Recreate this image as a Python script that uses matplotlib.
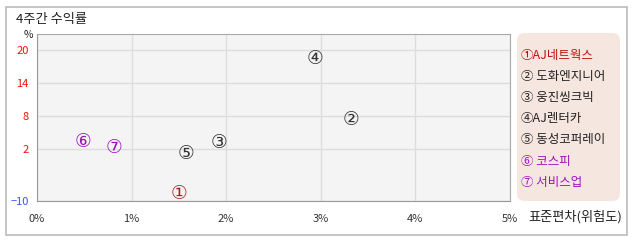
import numpy as np
import matplotlib.pyplot as plt
from matplotlib.patches import FancyBboxPatch, Rectangle

plt.rcParams['font.family'] = ['Noto Sans CJK KR', 'DejaVu Sans']

# data
marks = ['①', '②', '③', '④', '⑤', '⑥', '⑦']
names = ['AJ네트웍스', ' 도화엔지니어', ' 웅진씽크빅', 'AJ렌터카', ' 동성코퍼레이', ' 코스피', ' 서비스업']
risk = [1.50, 3.32, 1.92, 2.94, 1.57, 0.49, 0.81]      # 표준편차 (%)
ret = [-8.2, 7.3, 3.1, 18.5, 0.9, 3.3, 2.2]            # 4주간 수익률 (%)
colors = ['#b02020', '#333333', '#333333', '#333333', '#333333', '#a010c0', '#a010c0']
legend_colors = ['#c01010', '#222222', '#222222', '#222222', '#222222', '#a010c0', '#a010c0']
xticks = [0, 1, 2, 3, 4, 5]
yticks = [-10, 2, 8, 14, 20]
ytick_colors = ['#3355ee', '#ee1111', '#ee1111', '#ee1111', '#ee1111']

# y axis is compressed below 2
def fwd(y):
    y = np.asarray(y, dtype=float)
    return np.where(y >= 2, y, 2 + (y - 2) * 0.788)

def inv(y):
    y = np.asarray(y, dtype=float)
    return np.where(y >= 2, y, 2 + (y - 2) / 0.788)

fig = plt.figure(figsize=(6.38, 2.42), dpi=100)
W, H = 638, 242

# outer frame
fig.patches.append(Rectangle((6 / W, 1 - 235 / H), 621 / W, 228 / H, transform=fig.transFigure,
                             fill=False, edgecolor='#bbbbbb', linewidth=1.2))
fig.text(16 / W, 1 - 19 / H, '4주간 수익률', fontsize=9.5, color='#222222', va='center', ha='left')

ax = fig.add_axes([37 / W, 1 - 201 / H, 473 / W, 167 / H])
ax.set_facecolor('#f4f4f4')
ax.set_yscale('function', functions=(fwd, inv))
ax.set_xlim(0, 5)
ax.set_ylim(-10, 22.9)
ax.set_xticks(xticks)
ax.set_xticklabels([f'{v}%' for v in xticks], fontsize=8, color='#333333')
ax.set_yticks(yticks)
ax.set_yticklabels([str(v).replace('-', '−') for v in yticks], fontsize=8)
for lab, c in zip(ax.get_yticklabels(), ytick_colors):
    lab.set_color(c)
ax.tick_params(axis='x', length=0, pad=9)
ax.tick_params(axis='y', length=0, pad=6)
ax.grid(True, color='#dddddd', linewidth=1)
ax.set_axisbelow(True)
for s in ax.spines.values():
    s.set_color('#aaaaaa')
ax.spines['left'].set_color('#999999')
ax.spines['bottom'].set_color('#999999')

for m, x, y, c in zip(marks, risk, ret, colors):
    ax.text(x, y, m, color=c, fontsize=13.5, ha='center', va='center', family='DejaVu Sans')

fig.text(24 / W, 1 - 35 / H, '%', fontsize=7.5, color='#222222', ha='left', va='center')
fig.text(528 / W, 1 - 217 / H, '표준편차(위험도)', fontsize=9.5, color='#222222', ha='left', va='center')

# legend box
fig.patches.append(FancyBboxPatch((517 / W, 1 - 201 / H), 103 / W, 168 / H,
                                  boxstyle='round,pad=0,rounding_size=0.012',
                                  transform=fig.transFigure, facecolor='#f5e7df',
                                  edgecolor='none', mutation_aspect=W / H))
for i, (m, n, c) in enumerate(zip(marks, names, legend_colors)):
    fig.text(521 / W, 1 - (55 + i * 21.2) / H, m + n, fontsize=9, color=c, ha='left', va='center')

fig.savefig('out.png', dpi=100)
